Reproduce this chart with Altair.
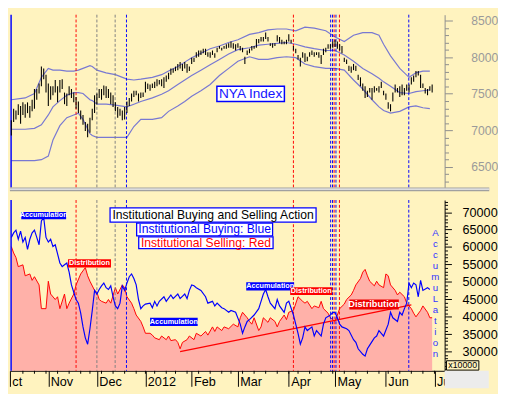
import altair as alt
import pandas as pd

# ---------------- calendar (trading-day index 0 = 2011-10-10) ----------------
HOLIDAYS = ["2011-11-24", "2011-12-26", "2012-01-02", "2012-01-16",
            "2012-02-20", "2012-04-06", "2012-05-28", "2012-07-04"]
cal = pd.bdate_range("2011-10-10", "2012-07-06")
cal = cal[~cal.isin(pd.to_datetime(HOLIDAYS))]
MONTH_START = [i for i in range(1, len(cal)) if cal[i].month != cal[i - 1].month]
WEEK_START = [i for i in range(1, len(cal)) if cal[i].weekday() < cal[i - 1].weekday()]
MONTH_LABELS = ["Nov", "Dec", "2012", "Feb", "Mar", "Apr", "May", "Jun", "Ju"]
FIRST_LABEL = "ct"

# ---------------- NYA Index daily high / low ----------------
NYA_HIGH = [7137, 7296, 7271, 7357, 7333, 7382, 7357, 7382, 7333, 7418,
            7565, 7565, 7639, 7872, 7847, 7761, 7639, 7602, 7602, 7688,
            7602, 7688, 7700, 7516, 7504, 7602, 7565, 7516, 7455, 7394,
            7271, 7210, 7112, 7088, 7173, 7296, 7480, 7504, 7565, 7565,
            7614, 7602, 7565, 7516, 7480, 7382, 7320, 7296, 7271, 7320,
            7394, 7443, 7504, 7541, 7541, 7504, 7516, 7516, 7663, 7639,
            7627, 7639, 7663, 7700, 7688, 7700, 7725, 7749, 7786, 7847,
            7847, 7872, 7908, 7933, 7908, 7933, 7908, 7872, 7994, 7994,
            8068, 8092, 8092, 8117, 8117, 8068, 8068, 8092, 8055, 8129,
            8153, 8129, 8153, 8178, 8190, 8215, 8190, 8178, 8190, 8153,
            8129, 8006, 8092, 8117, 8153, 8153, 8251, 8251, 8276, 8276,
            8337, 8276, 8190, 8190, 8190, 8300, 8276, 8239, 8215, 8239,
            8313, 8239, 8153, 8117, 8031, 7994, 8068, 8055, 8006, 8068,
            8092, 8068, 8068, 8068, 8031, 8117, 8129, 8178, 8178, 8215,
            8239, 8215, 8178, 8153, 7994, 7970, 7884, 7872, 7908, 7884,
            7761, 7725, 7639, 7602, 7541, 7578, 7578, 7602, 7578, 7602,
            7663, 7541, 7504, 7382, 7357, 7516, 7627, 7578, 7602, 7627,
            7578, 7627, 7627, 7725, 7749, 7810, 7810, 7761, 7639, 7578,
            7565, 7602, 7627]
NYA_LOW = [6928, 7112, 7149, 7210, 7088, 7210, 7173, 7235, 7173, 7259,
           7296, 7418, 7504, 7602, 7700, 7516, 7333, 7418, 7480, 7516,
           7382, 7516, 7565, 7357, 7333, 7480, 7443, 7382, 7296, 7235,
           7149, 7075, 6990, 6904, 6965, 7137, 7235, 7357, 7443, 7418,
           7480, 7443, 7443, 7357, 7320, 7259, 7173, 7198, 7137, 7149,
           7235, 7333, 7394, 7455, 7480, 7394, 7443, 7455, 7516, 7565,
           7541, 7578, 7578, 7602, 7627, 7602, 7578, 7663, 7700, 7761,
           7786, 7810, 7823, 7847, 7810, 7847, 7786, 7810, 7908, 7933,
           7994, 8006, 8031, 8055, 8031, 8006, 7994, 8031, 7994, 8068,
           8117, 8092, 8117, 8117, 8129, 8129, 8117, 8092, 8129, 8092,
           8068, 7908, 8031, 8055, 8092, 8117, 8129, 8190, 8215, 8215,
           8251, 8215, 8153, 8129, 8153, 8215, 8190, 8178, 8178, 8178,
           8215, 8190, 8092, 8055, 7970, 7872, 7994, 7933, 7945, 8006,
           8031, 8006, 8031, 7994, 7908, 8031, 8068, 8117, 8117, 8129,
           8141, 8117, 8092, 8055, 7933, 7908, 7810, 7786, 7823, 7810,
           7688, 7602, 7541, 7443, 7455, 7516, 7418, 7516, 7541, 7516,
           7578, 7480, 7418, 7296, 7259, 7394, 7516, 7516, 7455, 7480,
           7480, 7541, 7516, 7627, 7663, 7725, 7749, 7578, 7578, 7504,
           7480, 7541, 7516]

# ---------------- Bollinger bands (read at sample days) ----------------
BAND_DAY = [0, 6, 10, 13, 16, 18, 21, 24, 27, 29, 31, 34, 35, 37, 41, 45, 50, 53, 56, 61,
            65, 68, 72, 75, 78, 82, 86, 90, 94, 98, 103, 107, 111, 115, 119, 123, 127, 131,
            136, 140, 144, 148, 152, 156, 159, 161, 164, 168, 172, 175, 178, 181]
BAND_UPPER = [7418, 7443, 7504, 7725, 7847, 7823, 7823, 7810, 7810, 7823, 7847, 7884, 7872,
              7823, 7786, 7761, 7700, 7688, 7700, 7725, 7761, 7810, 7872, 7933, 7994, 8055,
              8117, 8153, 8202, 8239, 8313, 8337, 8374, 8386, 8386, 8362, 8411, 8398, 8362,
              8276, 8215, 8300, 8337, 8337, 8300, 8178, 8019, 7847, 7725, 7786, 7810, 7810]
BAND_MID = [7014, 7014, 7026, 7075, 7210, 7320, 7406, 7480, 7516, 7516, 7504, 7418, 7406,
            7357, 7357, 7345, 7320, 7357, 7394, 7443, 7492, 7541, 7627, 7688, 7749, 7823,
            7896, 7970, 8043, 8104, 8129, 8166, 8178, 8190, 8202, 8178, 8141, 8117, 8092,
            8092, 8031, 7945, 7847, 7774, 7712, 7663, 7602, 7516, 7504, 7529, 7541, 7553]
BAND_LOWER = [6585, 6585, 6585, 6598, 6647, 6867, 7063, 7173, 7210, 7235, 7149, 6953, 6928,
              6904, 6904, 6904, 6904, 7051, 7149, 7149, 7173, 7259, 7333, 7394, 7467, 7541,
              7627, 7749, 7847, 7945, 8006, 7970, 7970, 7994, 8006, 7994, 7908, 7872, 7847,
              7847, 7823, 7688, 7565, 7418, 7320, 7271, 7235, 7259, 7320, 7333, 7308, 7296]

# ---------------- Institutional selling (red) ----------------
SELL_DAY = [0, 1, 2, 3, 5, 6, 8, 9, 10, 12, 13, 15, 16, 17, 19, 20, 21, 23, 24, 25, 27, 28,
            30, 32, 33, 34, 36, 37, 38, 39, 41, 42, 43, 45, 46, 48, 49, 50, 52, 53, 54, 56,
            57, 58, 60, 61, 62, 64, 65, 67, 68, 69, 71, 72, 73, 74, 76, 77, 79, 80, 82, 84,
            85, 87, 88, 89, 91, 92, 94, 96, 98, 99, 100, 102, 103, 104, 105, 107, 108, 109,
            111, 112, 114, 115, 116, 118, 119, 120, 122, 124, 126, 127, 128, 130, 131, 133,
            134, 135, 137, 138, 140, 141, 142, 144, 145, 147, 148, 149, 151, 152, 153, 154,
            155, 157, 158, 159, 161, 162, 163, 164, 166, 167, 168, 170, 171, 173, 174, 175,
            177, 178, 180, 181, 182]
SELL_VAL = [60130, 58297, 56989, 54371, 54894, 51753, 52276, 50444, 51491, 49135, 42328,
            42328, 50182, 46517, 44946, 45731, 42328, 46517, 42328, 43899, 46517, 49135,
            52276, 54109, 51753, 50182, 47564, 47040, 44946, 44422, 43899, 44946, 43899,
            48349, 46517, 49135, 48349, 45731, 43899, 42328, 40495, 38663, 37092, 35259,
            35259, 34736, 33950, 33427, 34474, 33427, 34474, 33165, 33427, 32641, 30809,
            32641, 33427, 34474, 33427, 35259, 34474, 35783, 34736, 37092, 35783, 37092,
            36045, 37092, 36568, 37877, 37092, 39710, 41281, 39710, 38663, 37877, 39710,
            36045, 37092, 39710, 38400, 39710, 38663, 37092, 38663, 40495, 39186, 41281,
            41804, 45731, 44422, 43899, 44422, 42328, 43113, 42590, 44422, 42328, 41019,
            39710, 38663, 40495, 42328, 43637, 44946, 46255, 47564, 49135, 50967, 52800,
            53585, 51753, 50182, 48873, 50182, 49135, 48349, 52276, 51753, 49135, 47564,
            46255, 47040, 45731, 43899, 42328, 41019, 39972, 41804, 43113, 41281, 39710,
            39710]

# ---------------- Institutional buying (blue) ----------------
BUY_DAY = [0, 1, 2, 3, 4, 5, 6, 7, 8, 9, 10, 11, 12, 13, 14, 15, 16, 17, 18, 19, 20, 21, 22,
           23, 24, 25, 26, 27, 28, 29, 30, 31, 32, 33, 34, 35, 36, 37, 38, 39, 40, 41, 42,
           43, 44, 45, 46, 47, 48, 49, 50, 51, 52, 53, 54, 55, 56, 57, 58, 60, 61, 62, 63,
           64, 66, 67, 69, 70, 72, 73, 75, 76, 77, 78, 79, 80, 82, 84, 85, 87, 88, 89, 91,
           92, 94, 95, 97, 99, 100, 101, 102, 103, 105, 107, 108, 109, 110, 111, 112, 114,
           115, 116, 118, 119, 120, 122, 123, 124, 125, 126, 127, 128, 130, 131, 132, 134,
           135, 136, 138, 139, 140, 141, 142, 143, 145, 146, 148, 149, 150, 152, 153, 154,
           155, 157, 158, 159, 160, 161, 163, 164, 165, 167, 168, 169, 170, 171, 172, 173,
           174, 175, 176, 177, 178, 180, 181]
BUY_VAL = [62748, 64057, 64843, 62225, 64581, 61439, 62748, 59345, 62225, 64057, 64843,
           62748, 60654, 67460, 68508, 62748, 61439, 62225, 60130, 60654, 58036, 55418,
           54371, 54894, 55418, 52800, 49135, 47040, 44946, 43899, 41019, 37092, 33950,
           32118, 36568, 41804, 47564, 46517, 47826, 48873, 49658, 48349, 47826, 48873,
           45731, 43113, 42328, 43899, 48873, 47564, 49658, 51491, 52276, 50967, 49135,
           44946, 42328, 43113, 43637, 43899, 42590, 44422, 43113, 44422, 45731, 44422,
           46255, 45208, 46517, 45208, 46517, 45208, 47564, 49135, 48873, 48349, 47564,
           45731, 43899, 44422, 43113, 43899, 42590, 42328, 41281, 41804, 41281, 37877,
           35259, 37092, 38663, 39186, 40495, 42328, 44422, 46517, 47826, 45731, 43899,
           42328, 44946, 43113, 41281, 43899, 44422, 40495, 37877, 35259, 32118, 33950,
           37092, 36045, 37092, 34474, 36045, 34474, 37877, 39710, 40495, 41281, 41281,
           39710, 37877, 37092, 36568, 36045, 33427, 32641, 30809, 29238, 28714, 30809,
           31856, 33950, 34474, 36045, 35259, 34474, 37877, 41281, 39710, 38663, 41281,
           40495, 42328, 43899, 49658, 48349, 49658, 49135, 45731, 50444, 47564, 48349,
           47826]

# ---------------- event markers / trend line ----------------
EVENT_DAY = [28.0, 37.0, 44.9, 49.8, 122.0, 138.1, 138.9, 139.6, 140.4, 141.9, 171.9]
EVENT_KIND = ["red", "gray", "gray", "blue", "red", "blue", "blue", "red", "blue", "red", "blue"]
START_DAY = [-0.1]
TREND_DAY = [73, 173]
TREND_VAL = [30000, 43400]

# ---------------- annotations ----------------
TITLE_TEXT = ["Institutional Buying and Selling Action", "Institutional Buying: Blue",
              "Institutional Selling: Red"]
TITLE_COLOR = ["#000000", "#0000FF", "#FF0000"]
TITLE_X0 = [42.7, 54.2, 55.1]
TITLE_X1 = [131.8, 113.0, 113.2]
TITLE_Y0 = [67120, 63193, 59528]
TITLE_Y1 = [71204, 66858, 62931]

TAG_TEXT = ["Accumulation", "Distribution", "Accumulation", "Accumulation", "Distribution",
            "Distribution"]
TAG_FILL = ["#0000FF", "#FF0000", "#0000FF", "#0000FF", "#FF0000", "#EE0000"]
TAG_SIZE = [7.5, 7.5, 7.5, 7.5, 7.5, 9.5]
TAG_X0 = [4.3, 24.5, 60.0, 101.6, 120.6, 146.2]
TAG_X1 = [23.7, 43.1, 80.6, 122.3, 138.8, 167.6]
TAG_Y0 = [67984, 54109, 37354, 47564, 46255, 42066]
TAG_Y1 = [70079, 56465, 39710, 49920, 48480, 44946]

NYA_TEXT = "NYA Index"
NYA_BOX = dict(x0=88.9, x1=118.1, y0=7394, y1=7602)
VERTICAL_TEXT = "AccumuLation"
VERTICAL_POS = dict(day=183.4, value=65366)
UNIT_TEXT = "x10000"
UNIT_BOX = dict(x0=188.2, x1=202.2, y0=24700, y1=27382)

# ---------------- layout / style ----------------
FONT = "Liberation Sans"
BG = "#FFF3BF"
W, H1, H2 = 448, 178, 176
XDOM = [-0.6, 187.4]
PDOM = [6218, 8582]
VDOM = [24500, 73480]

xs = alt.Scale(domain=XDOM, nice=False, zero=False)
ps = alt.Scale(domain=PDOM, nice=False, zero=False)
vs = alt.Scale(domain=VDOM, nice=False, zero=False)

p_axis = alt.Axis(orient="right", values=list(range(6300, 8501, 100)), format="d",
                  tickSize={"condition": {"test": "datum.value % 500 === 0", "value": 8}, "value": 4},
                  labelExpr="datum.value % 500 === 0 ? datum.label : ''",
                  labelColor="#9A9A9A", labelFontSize=12.5, labelFont=FONT, labelPadding=19,
                  domainColor="#8C8C8C", tickColor="#8C8C8C", grid=False, title=None,
                  labelOverlap=False, labelFlush=False)
v_axis = alt.Axis(orient="right", values=list(range(25000, 73001, 1000)), format="d",
                  tickSize={"condition": {"test": "datum.value % 5000 === 0", "value": 7}, "value": 3},
                  labelExpr="datum.value % 5000 === 0 && datum.value >= 30000 ? datum.label : ''",
                  labelColor="#000000", labelFontSize=13, labelFont=FONT, labelPadding=11,
                  domainColor="#000000", tickColor="#000000", grid=False, title=None,
                  labelOverlap=False, labelFlush=False)

x_vals = [XDOM[0]] + [int(v) for v in MONTH_START]
x_labs = [FIRST_LABEL] + MONTH_LABELS
x_expr = " : ".join(f"datum.value == {v} ? '{l}'" for v, l in zip(x_vals, x_labs)) + " : ''"
x_axis = alt.Axis(orient="bottom", values=x_vals, labelExpr=x_expr, tickSize=16,
                  labelAlign="left", labelBaseline="top", labelPadding=-11, labelOffset=2,
                  labelFont=FONT, labelFontSize=13, labelColor="#000000",
                  domainColor="#000000", tickColor="#000000", grid=False, title=None,
                  labelOverlap=False, labelFlush=False)

ev_color = alt.Color("kind:N", scale=alt.Scale(domain=["red", "gray", "blue"],
                                               range=["#FF0000", "#808080", "#0000FF"]),
                     legend=None)

# ---------------- top panel ----------------
price_df = pd.DataFrame({"day": list(range(len(NYA_HIGH))), "high": NYA_HIGH, "low": NYA_LOW})
n = len(BAND_DAY)
band_df = pd.DataFrame({"day": BAND_DAY * 3, "value": BAND_UPPER + BAND_MID + BAND_LOWER,
                        "band": ["upper"] * n + ["mid"] * n + ["lower"] * n})
ev_df = pd.DataFrame({"day": EVENT_DAY, "kind": EVENT_KIND})
start_df = pd.DataFrame({"day": START_DAY})
nya_df = pd.DataFrame({"x0": [NYA_BOX["x0"]], "x1": [NYA_BOX["x1"]],
                       "y0": [NYA_BOX["y0"]], "y1": [NYA_BOX["y1"]], "text": [NYA_TEXT]})
nya_df["xc"] = (nya_df.x0 + nya_df.x1) / 2
nya_df["yc"] = (nya_df.y0 + nya_df.y1) / 2

tx = lambda f: alt.X(f, scale=xs, axis=None)
ty = lambda f: alt.Y(f, scale=ps, axis=p_axis)

bands = alt.Chart(band_df).mark_line(color="#7878D2", strokeWidth=1.2).encode(
    x=tx("day:Q"), y=ty("value:Q"), detail="band:N")
ev_top = alt.Chart(ev_df).mark_rule(strokeDash=[3, 2], strokeWidth=1).encode(
    x=tx("day:Q"), color=ev_color)
start_top = alt.Chart(start_df).mark_rule(color="#0000FF", strokeWidth=1.5).encode(x=tx("day:Q"))
bars = alt.Chart(price_df).mark_rule(color="#000000", strokeWidth=1.1).encode(
    x=tx("day:Q"), y=ty("low:Q"), y2="high:Q")
nya_box = alt.Chart(nya_df).mark_rect(fill="#FFFFFF", stroke="#0000FF", strokeWidth=1.5).encode(
    x=tx("x0:Q"), x2="x1:Q", y=ty("y0:Q"), y2="y1:Q")
nya_txt = alt.Chart(nya_df).mark_text(color="#1515FF", fontSize=14, font=FONT).encode(
    x=tx("xc:Q"), y=ty("yc:Q"), text="text:N")
sep_df = pd.DataFrame({"k": [0]})
sep1 = alt.Chart(sep_df).mark_rule(color="#A0A0A0", strokeWidth=4).encode(
    x=alt.value(0), x2=alt.value(W + 46), y=alt.value(H1 + 2))
sep2 = alt.Chart(sep_df).mark_rule(color="#F2F2F2", strokeWidth=1.4).encode(
    x=alt.value(0), x2=alt.value(W + 46), y=alt.value(H1 + 1.8))

top = alt.layer(bands, ev_top, start_top, bars, nya_box, nya_txt, sep1, sep2).properties(
    width=W, height=H1)

# ---------------- bottom panel ----------------
bx = lambda f: alt.X(f, scale=xs, axis=x_axis)
by = lambda f: alt.Y(f, scale=vs, axis=v_axis)

sell_df = pd.DataFrame({"day": SELL_DAY, "value": SELL_VAL})
sell_df["base"] = VDOM[0]
buy_df = pd.DataFrame({"day": BUY_DAY, "value": BUY_VAL})
trend_df = pd.DataFrame({"day": TREND_DAY, "value": TREND_VAL})
title_df = pd.DataFrame({"x0": TITLE_X0, "x1": TITLE_X1, "y0": TITLE_Y0, "y1": TITLE_Y1,
                         "text": TITLE_TEXT, "tcolor": TITLE_COLOR})
title_df["xc"] = (title_df.x0 + title_df.x1) / 2
title_df["yc"] = (title_df.y0 + title_df.y1) / 2
tag_df = pd.DataFrame({"x0": TAG_X0, "x1": TAG_X1, "y0": TAG_Y0, "y1": TAG_Y1,
                       "text": TAG_TEXT, "fill": TAG_FILL, "size": TAG_SIZE})
tag_df["xc"] = (tag_df.x0 + tag_df.x1) / 2
tag_df["yc"] = (tag_df.y0 + tag_df.y1) / 2
vt_df = pd.DataFrame({"day": [VERTICAL_POS["day"]], "value": [VERTICAL_POS["value"]],
                      "text": ["\n".join(list(VERTICAL_TEXT))]})
unit_df = pd.DataFrame({"x0": [UNIT_BOX["x0"]], "x1": [UNIT_BOX["x1"]],
                        "y0": [UNIT_BOX["y0"]], "y1": [UNIT_BOX["y1"]], "text": [UNIT_TEXT]})
unit_df["xc"] = (unit_df.x0 + unit_df.x1) / 2
unit_df["yc"] = (unit_df.y0 + unit_df.y1) / 2
corner_df = pd.DataFrame({"x0": [XDOM[1]], "x1": [206.5], "y0": [19500], "y1": [VDOM[0]]})
week_df = pd.DataFrame({"day": [int(v) for v in WEEK_START]})
week_df["y0"] = VDOM[0]
week_df["y1"] = VDOM[0] - 850

sell = alt.Chart(sell_df).mark_area(color="#FF94A0", line={"color": "#FF0000", "strokeWidth": 1}).encode(
    x=bx("day:Q"), y=by("value:Q"), y2="base:Q")
ev_bot = alt.Chart(ev_df).mark_rule(strokeDash=[3, 2], strokeWidth=1).encode(
    x=bx("day:Q"), color=ev_color)
start_bot = alt.Chart(start_df).mark_rule(color="#0000FF", strokeWidth=1.5).encode(x=bx("day:Q"))
trend = alt.Chart(trend_df).mark_line(color="#FF0000", strokeWidth=1.2).encode(
    x=bx("day:Q"), y=by("value:Q"))
buy = alt.Chart(buy_df).mark_line(color="#0000FF", strokeWidth=1.2).encode(
    x=bx("day:Q"), y=by("value:Q"))
title_box = alt.Chart(title_df).mark_rect(fill="#FFFFFF", stroke="#0000FF", strokeWidth=1.3).encode(
    x=bx("x0:Q"), x2="x1:Q", y=by("y0:Q"), y2="y1:Q")
title_txt = alt.Chart(title_df).mark_text(fontSize=12.5, font=FONT).encode(
    x=bx("xc:Q"), y=by("yc:Q"), text="text:N", color=alt.Color("tcolor:N", scale=None))
tag_box = alt.Chart(tag_df).mark_rect().encode(
    x=bx("x0:Q"), x2="x1:Q", y=by("y0:Q"), y2="y1:Q", fill=alt.Fill("fill:N", scale=None))
tag_txt = alt.Chart(tag_df).mark_text(font=FONT, fontWeight="bold", color="#FFFFFF").encode(
    x=bx("xc:Q"), y=by("yc:Q"), text="text:N", size=alt.Size("size:Q", scale=None))
vt = alt.Chart(vt_df).mark_text(lineBreak="\n", baseline="top", align="center", fontSize=10,
                                lineHeight=11.3, color="#3333FF", font=FONT).encode(
    x=bx("day:Q"), y=by("value:Q"), text="text:N")
corner = alt.Chart(corner_df).mark_rect(fill="#ECECEC").encode(
    x=bx("x0:Q"), x2="x1:Q", y=by("y0:Q"), y2="y1:Q")
unit_box = alt.Chart(unit_df).mark_rect(fill=BG, stroke="#000000", strokeWidth=1).encode(
    x=bx("x0:Q"), x2="x1:Q", y=by("y0:Q"), y2="y1:Q")
unit_txt = alt.Chart(unit_df).mark_text(fontSize=9, font=FONT, color="#000000").encode(
    x=bx("xc:Q"), y=by("yc:Q"), text="text:N")
weeks = alt.Chart(week_df).mark_rule(color="#000000", strokeWidth=1).encode(
    x=bx("day:Q"), y=by("y0:Q"), y2="y1:Q")

bottom = alt.layer(sell, ev_bot, start_bot, trend, buy, title_box, title_txt, tag_box, tag_txt,
                   vt, corner, unit_box, unit_txt, weeks).properties(width=W, height=H2)

chart = alt.vconcat(top, bottom, spacing=4).properties(padding=0).configure(
    background=BG).configure_view(stroke=None).configure_text(font=FONT)

chart.save("out.html", embed_options={"renderer": "svg", "actions": False})
